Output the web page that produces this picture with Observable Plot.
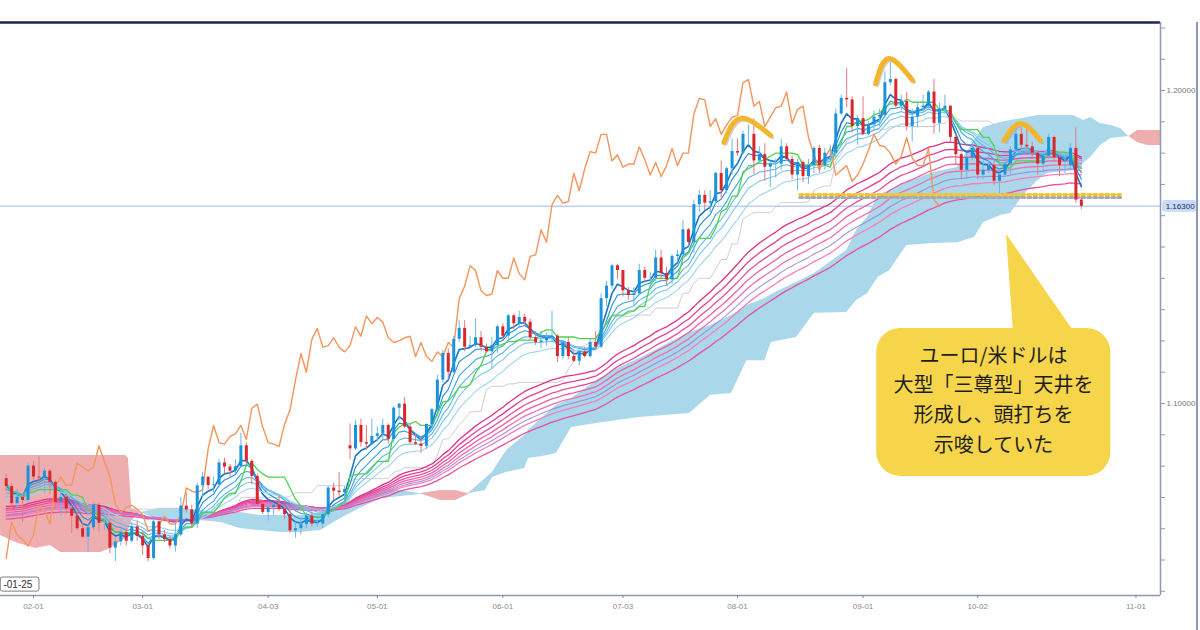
<!DOCTYPE html>
<html>
<head>
<meta charset="utf-8">
<script src="https://cdn.jsdelivr.net/npm/d3@7"></script>
<script src="https://cdn.jsdelivr.net/npm/@observablehq/plot@0.6"></script>
<style>
  html, body { margin: 0; padding: 0; background: #fff; }
  #wrap { position: relative; width: 1200px; height: 630px; overflow: hidden; }
  #edge { position: absolute; left: 1196px; top: 22px; width: 2px; height: 608px; background: #8e97b3; }
</style>
</head>
<body>
<div id="wrap"><div id="chart"></div><div id="edge"></div></div>
<script>
// ---- daily candles (trading-day index 0 = 01-25) ----
const open = [
1.0760,1.0735,1.0680,1.0700,1.0690, 1.0800,1.0765,1.0762,1.0784,1.0748,
1.0684,1.0700,1.0663,1.0640,1.0600, 1.0573,1.0603,1.0675,1.0617,1.0617,
1.0538,1.0558,1.0588,1.0560,1.0606, 1.0575,1.0545,1.0505,1.0622,1.0580,
1.0565,1.0545,1.0580,1.0672,1.0660, 1.0615,1.0737,1.0765,1.0738,1.0740,
1.0810,1.0797,1.0784,1.0798,1.0865, 1.0815,1.0767,1.0678,1.0652,1.0667,
1.0675,1.0662,1.0645,1.0593,1.0600, 1.0613,1.0640,1.0615,1.0615,1.0645,
1.0730,1.0720,1.0715,1.0865,1.0855, 1.0930,1.0875,1.0870,1.0895,1.0903,
1.0930,1.0885,1.0985,1.0998,1.0925, 1.0875,1.0870,1.0863,1.0933,1.0980,
1.1075,1.1160,1.1100,1.1205,1.1240, 1.1180,1.1185,1.1210,1.1180,1.1165,
1.1185,1.1245,1.1215,1.1280,1.1255, 1.1275,1.1260,1.1210,1.1195,1.1200,
1.1210,1.1215,1.1150,1.1195,1.1150, 1.1135,1.1165,1.1150,1.1195,1.1180,
1.1335,1.1375,1.1440,1.1425,1.1360, 1.1345,1.1350,1.1425,1.1400,1.1400,
1.1465,1.1415,1.1395,1.1470,1.1475, 1.1555,1.1515,1.1635,1.1665,1.1640,
1.1645,1.1735,1.1680,1.1750,1.1805, 1.1800,1.1860,1.1860,1.1775,1.1795,
1.1755,1.1765,1.1765,1.1820,1.1780, 1.1730,1.1770,1.1725,1.1760,1.1815,
1.1760,1.1800,1.1800,1.1925,1.1975, 1.1970,1.1885,1.1910,1.1860,1.1890,
1.1915,1.1920,1.2025,1.2035,1.1950, 1.1965,1.1885,1.1915,1.1945,1.1950,
1.1995,1.1895,1.1940,1.1950,1.1850, 1.1795,1.1745,1.1785,1.1815,1.1730,
1.1745,1.1760,1.1710,1.1730,1.1765, 1.1810,1.1860,1.1825,1.1820,1.1800,
1.1765,1.1790,1.1850,1.1785,1.1760, 1.1760,1.1815,1.1650
];
const high = [
1.0775,1.0745,1.0725,1.0710,1.0810, 1.0815,1.0830,1.0795,1.0790,1.0755,
1.0715,1.0710,1.0675,1.0660,1.0620, 1.0615,1.0680,1.0680,1.0645,1.0630,
1.0570,1.0600,1.0600,1.0620,1.0625, 1.0590,1.0555,1.0630,1.0625,1.0595,
1.0575,1.0615,1.0700,1.0715,1.0675, 1.0745,1.0780,1.0765,1.0765,1.0820,
1.0825,1.0805,1.0820,1.0905,1.0875, 1.0820,1.0775,1.0690,1.0680,1.0680,
1.0705,1.0675,1.0670,1.0620,1.0635, 1.0650,1.0670,1.0630,1.0660,1.0735,
1.0745,1.0780,1.0735,1.0935,1.0945, 1.0950,1.0930,1.0950,1.0925,1.0950,
1.0935,1.0990,1.1000,1.1020,1.0935, 1.0905,1.0890,1.0935,1.0985,1.1090,
1.1170,1.1175,1.1215,1.1265,1.1265, 1.1215,1.1270,1.1230,1.1190,1.1210,
1.1250,1.1255,1.1285,1.1285,1.1295, 1.1285,1.1270,1.1230,1.1230,1.1225,
1.1295,1.1220,1.1200,1.1210,1.1170, 1.1170,1.1180,1.1205,1.1230,1.1350,
1.1390,1.1445,1.1445,1.1425,1.1370, 1.1370,1.1445,1.1435,1.1420,1.1490,
1.1490,1.1435,1.1475,1.1490,1.1585, 1.1560,1.1650,1.1680,1.1680,1.1680,
1.1740,1.1775,1.1755,1.1845,1.1845, 1.1870,1.1890,1.1910,1.1820,1.1830,
1.1770,1.1780,1.1845,1.1830,1.1790, 1.1780,1.1775,1.1780,1.1820,1.1825,
1.1815,1.1825,1.1940,1.1985,1.2070, 1.1980,1.1920,1.1980,1.1900,1.1935,
1.1940,1.2060,1.2090,1.2040,1.1985, 1.1995,1.1940,1.1960,1.1985,1.2000,
1.2035,1.1960,1.1985,1.1950,1.1860, 1.1800,1.1800,1.1835,1.1820,1.1775,
1.1790,1.1775,1.1735,1.1770,1.1820, 1.1880,1.1880,1.1875,1.1835,1.1805,
1.1800,1.1860,1.1855,1.1795,1.1790, 1.1830,1.1880,1.1660
];
const low = [
1.0720,1.0660,1.0660,1.0620,1.0680, 1.0750,1.0750,1.0715,1.0710,1.0665,
1.0640,1.0645,1.0585,1.0595,1.0570, 1.0525,1.0595,1.0590,1.0595,1.0520,
1.0495,1.0545,1.0545,1.0555,1.0560, 1.0515,1.0495,1.0500,1.0565,1.0555,
1.0535,1.0525,1.0575,1.0650,1.0605, 1.0600,1.0700,1.0725,1.0715,1.0730,
1.0775,1.0765,1.0775,1.0795,1.0805, 1.0740,1.0675,1.0645,1.0625,1.0640,
1.0655,1.0630,1.0585,1.0570,1.0580, 1.0600,1.0605,1.0605,1.0600,1.0635,
1.0690,1.0700,1.0680,1.0820,1.0850, 1.0860,1.0850,1.0865,1.0880,1.0885,
1.0870,1.0875,1.0945,1.0920,1.0870, 1.0865,1.0840,1.0855,1.0925,1.0975,
1.1065,1.1075,1.1095,1.1195,1.1165, 1.1180,1.1180,1.1165,1.1160,1.1110,
1.1160,1.1200,1.1205,1.1235,1.1240, 1.1245,1.1200,1.1185,1.1175,1.1185,
1.1195,1.1130,1.1140,1.1140,1.1130, 1.1120,1.1145,1.1145,1.1175,1.1175,
1.1310,1.1365,1.1395,1.1340,1.1330, 1.1310,1.1345,1.1390,1.1380,1.1390,
1.1395,1.1375,1.1380,1.1450,1.1470, 1.1500,1.1480,1.1610,1.1615,1.1610,
1.1635,1.1650,1.1670,1.1730,1.1790, 1.1795,1.1825,1.1730,1.1770,1.1710,
1.1690,1.1720,1.1745,1.1775,1.1715, 1.1680,1.1705,1.1700,1.1735,1.1735,
1.1745,1.1775,1.1785,1.1920,1.1945, 1.1865,1.1825,1.1855,1.1855,1.1875,
1.1885,1.1910,1.2015,1.1945,1.1935, 1.1870,1.1835,1.1880,1.1930,1.1940,
1.1860,1.1865,1.1925,1.1835,1.1760, 1.1715,1.1720,1.1775,1.1715,1.1715,
1.1735,1.1695,1.1670,1.1725,1.1730, 1.1800,1.1810,1.1810,1.1780,1.1730,
1.1740,1.1780,1.1770,1.1725,1.1735, 1.1745,1.1640,1.1620
];
const close = [
1.0735,1.0680,1.0700,1.0690,1.0800, 1.0765,1.0762,1.0784,1.0748,1.0684,
1.0700,1.0663,1.0640,1.0600,1.0573, 1.0603,1.0675,1.0617,1.0617,1.0538,
1.0558,1.0588,1.0560,1.0606,1.0575, 1.0545,1.0505,1.0622,1.0580,1.0565,
1.0545,1.0580,1.0672,1.0660,1.0615, 1.0737,1.0765,1.0738,1.0740,1.0810,
1.0797,1.0784,1.0798,1.0865,1.0815, 1.0767,1.0678,1.0652,1.0667,1.0675,
1.0662,1.0645,1.0593,1.0600,1.0613, 1.0640,1.0615,1.0615,1.0645,1.0730,
1.0720,1.0715,1.0725,1.0855,1.0930, 1.0875,1.0870,1.0895,1.0903,1.0930,
1.0885,1.0985,1.0998,1.0925,1.0875, 1.0870,1.0863,1.0933,1.0980,1.1075,
1.1160,1.1100,1.1205,1.1240,1.1180, 1.1185,1.1210,1.1180,1.1165,1.1185,
1.1245,1.1215,1.1280,1.1255,1.1275, 1.1260,1.1210,1.1195,1.1200,1.1210,
1.1215,1.1150,1.1195,1.1150,1.1135, 1.1165,1.1150,1.1195,1.1180,1.1335,
1.1375,1.1440,1.1425,1.1360,1.1345, 1.1350,1.1425,1.1400,1.1400,1.1465,
1.1415,1.1395,1.1470,1.1475,1.1555, 1.1515,1.1635,1.1665,1.1640,1.1645,
1.1735,1.1680,1.1750,1.1805,1.1800, 1.1860,1.1860,1.1775,1.1795,1.1755,
1.1765,1.1765,1.1820,1.1780,1.1730, 1.1770,1.1725,1.1760,1.1815,1.1760,
1.1800,1.1800,1.1925,1.1975,1.1970, 1.1885,1.1910,1.1860,1.1890,1.1915,
1.1920,1.2025,1.2035,1.1950,1.1965, 1.1885,1.1915,1.1945,1.1950,1.1995,
1.1895,1.1940,1.1950,1.1850,1.1795, 1.1745,1.1785,1.1815,1.1730,1.1745,
1.1760,1.1710,1.1730,1.1765,1.1810, 1.1860,1.1825,1.1820,1.1800,1.1765,
1.1790,1.1850,1.1785,1.1760,1.1760, 1.1815,1.1650,1.1630
];

// ---- Ichimoku cloud edges ----
const cloudIdx = [-1.04,1.7,5.4,8.1,10,17.3,19.1,21.9,22.4,23.0,24.6,28.3,31.9,35.6,39.3,42.9,46.6,50.3,53.9,57.6,
  61.3,64.9,68.6,72.3,75.9,79.6,82.3,84.7,87.8,89.1,91.7,95.0,95.7,98.3,100.8,103.6,108.2,112.0,116.1,125.2,
  129.1,132.9,135.7,139.0,140.2,144.8,148.1,154.0,155.8,157.8,159.8,161.9,165.0,169.9,174.3,177.4,179.1,182.2,184.0,186.4,
  189.0,190.8,195.6,197.4,198.7,200.5,202.4,204.2,205.7,207.3,209.1,211.5];
const spanA = [1.0578,1.0556,1.0537,1.0546,1.0524,1.0524,1.0537,1.0569,1.0594,1.0626,1.0652,1.0665,1.0665,1.0658,1.0652,1.0652,1.0642,1.0642,1.0642,1.0652,
  1.0674,1.0706,1.0728,1.0722,1.0712,1.0690,1.0690,1.0709,1.0760,1.0780,1.0850,1.0898,1.0914,1.0955,1.0994,1.1016,1.1073,1.1112,1.1144,1.1227,
  1.1249,1.1281,1.1313,1.1335,1.1348,1.1387,1.1415,1.1489,1.1553,1.1594,1.1665,1.1681,1.1706,1.1738,1.1754,1.1840,1.1882,1.1898,1.1904,1.1911,
  1.1920,1.1920,1.1920,1.1904,1.1914,1.1895,1.1888,1.1879,1.1853,1.1834,1.1824,1.1824];
const spanB = [1.0834,1.0834,1.0834,1.0834,1.0834,1.0834,1.0834,1.0834,1.0824,1.0665,1.0652,1.0626,1.0620,1.0626,1.0620,1.0601,1.0594,1.0588,1.0588,1.0594,
  1.0633,1.0665,1.0696,1.0703,1.0709,1.0722,1.0722,1.0712,1.0722,1.0764,1.0780,1.0792,1.0824,1.0831,1.0840,1.0923,1.0936,1.0946,1.0955,1.0968,
  1.1026,1.1032,1.1137,1.1137,1.1195,1.1211,1.1288,1.1291,1.1329,1.1351,1.1403,1.1425,1.1505,1.1511,1.1514,1.1530,1.1578,1.1601,1.1607,1.1665,
  1.1712,1.1735,1.1744,1.1767,1.1786,1.1824,1.1847,1.1850,1.1853,1.1872,1.1872,1.1872];

// ---- moving-average ribbons (periods; starting levels read at the left edge) ----
const shortPeriods = [4,6,9,12,15,20];
const shortSeeds   = [1.0745,1.0738,1.0725,1.0712,1.0700,1.0688];
const longPeriods  = [40,45,50,55,60,70,80];
const longSeeds    = [1.0668,1.0662,1.0656,1.0649,1.0642,1.0636,1.0628];
const slowPeriod = 65, slowSeed = 1.0640;

// ---- axis ticks ----
const tickIdx    = [5,25,48,68,91,113,134,157,178,207];
const tickLabels = ["02-01","03-01","04-03","05-01","06-01","07-03","08-01","09-01","10-02","11-01"];
const priceLabels = [1.10, 1.20];
const currentPrice = 1.1630;

// ---- annotations ----
const arcId    = [1,1,1, 2,2,2, 3,3,3];
const arcIdx   = [131.5,134.6,140.1, 159.3,161.7,166.1, 182.8,185.9,189.5];
const arcPrice = [1.1834,1.1911,1.1856, 1.2022,1.2102,1.2032, 1.1840,1.1895,1.1840];
const neckIdx = [145.4, 204.2];
const neckPrice = 1.1668;
const calloutLines = ["ユーロ/米ドルは","大型「三尊型」天井を","形成し、頭打ちを","示唆していた"];
const calloutLineY = [1.1150,1.1058,1.0962,1.0866];
const calloutX = 180.9;
const calloutBox = {x1:159.5, x2:202.4, y1:1.0767, y2:1.1240};
const pointer = [{x:183.3,y:1.1537},{x:184.6,y:1.1220},{x:195.9,y:1.1220},{x:183.3,y:1.1537}];

// ---- derived tables ----
const xMin = -1.045, xMax = 211.5;
const yMin = 1.03866, yMax = 1.22173;
const candles = close.map((c,i)=>({i, o:open[i], h:high[i], l:low[i], c}));
const up = candles.filter(d=>d.c >= d.o), down = candles.filter(d=>d.c < d.o);
function ema(p, seed){ const k = 2/(p+1); let e = seed; return close.map(c => (e = e + k*(c-e))); }
function mid(n){ return close.map((_,i)=>{ const s=Math.max(0,i-n+1); return (d3.max(high.slice(s,i+1))+d3.min(low.slice(s,i+1)))/2; }); }
const tenkan = mid(9), kijun = mid(26);
const chikou = close.slice(26).map((v,j)=>({x:j, v}));
const cloud = cloudIdx.map((x,k)=>({x, a:spanA[k], b:spanB[k]}));
const arcs = arcId.map((id,k)=>({id, x:arcIdx[k], y:arcPrice[k]}));
const labelMap = new Map(tickIdx.map((t,k)=>[t, tickLabels[k]]));

const shortColors = ["#1576c8","#2190dc","#3aa6e6","#5bb8ec","#7cc7ef","#9ad4f2"];
const longColors  = ["#e0308a","#e43f94","#e8509e","#ec60a8","#ef70b2","#f180bb","#ea4f9f"];

const lineOf = (arr, opts) => Plot.line(arr, {x:(d,i)=>i, y:d=>d, ...opts});

const marks = [
  Plot.areaY(cloud, {x:"x", y1:"b", y2:d=>Math.max(d.a,d.b), fill:"#aad7ea"}),
  Plot.areaY(cloud, {x:"x", y1:"a", y2:d=>Math.max(d.a,d.b), fill:"#eeaeb0"}),
  Plot.ruleY([currentPrice], {stroke:"#bcd0f2", strokeWidth:1.5}),
  lineOf(kijun, {stroke:"#cfcfcf", strokeWidth:1}),
  ...longPeriods.map((p,k)=>lineOf(ema(p,longSeeds[k]), {stroke:longColors[k], strokeWidth:1.3})),
  lineOf(ema(slowPeriod, slowSeed), {stroke:"#9c7fd8", strokeWidth:1.1, strokeOpacity:0.85}),
  ...shortPeriods.map((p,k)=>lineOf(ema(p,shortSeeds[k]), {stroke:shortColors[k], strokeWidth:k===0?1.6:1.1})),
  lineOf(tenkan, {stroke:"#4fd24f", strokeWidth:1.3}),
  Plot.line(chikou, {x:"x", y:"v", stroke:"#f4955a", strokeWidth:1.4}),
  Plot.line(neckIdx, {x:d=>d, y:()=>neckPrice-0.0010, stroke:"#a9a9a9", strokeWidth:3, strokeDasharray:"3,3"}),
  Plot.line(neckIdx, {x:d=>d, y:()=>neckPrice, stroke:"#f4c531", strokeWidth:3, strokeDasharray:"3,3"}),
  Plot.ruleX(up,   {x:"i", y1:"l", y2:"h", stroke:"#6cb7e4", strokeWidth:1}),
  Plot.ruleX(down, {x:"i", y1:"l", y2:"h", stroke:"#e07c80", strokeWidth:1}),
  Plot.ruleX(up,   {x:"i", y1:"o", y2:"c", stroke:"#1a93da", strokeWidth:3}),
  Plot.ruleX(down, {x:"i", y1:"o", y2:"c", stroke:"#d8262c", strokeWidth:3}),
  Plot.line(arcs, {x:"x", y:"y", z:"id", curve:"natural", stroke:"#9a9a9a", strokeOpacity:0.45, strokeWidth:3, dx:2, dy:2}),
  Plot.line(arcs, {x:"x", y:"y", z:"id", curve:"natural", stroke:"#f3b62a", strokeWidth:5, strokeLinecap:"round"}),
  Plot.line(pointer, {x:"x", y:"y", fill:"#f6d54a", stroke:"#f6d54a", strokeWidth:1}),
  Plot.rect([calloutBox], {x1:"x1", x2:"x2", y1:"y1", y2:"y2", fill:"#f6d54a", rx:24}),
  Plot.text(calloutLines, {x:()=>calloutX, y:(d,i)=>calloutLineY[i], text:d=>d, fontSize:20,
    fontFamily:"'Noto Sans CJK JP', sans-serif", fill:"#1e1e1e"}),
  Plot.ruleY([yMax], {stroke:"#1b2552", strokeWidth:2.5}),
  Plot.ruleY([yMin], {stroke:"#8e97b3", strokeWidth:1.5}),
  Plot.ruleX([xMax], {stroke:"#8e97b3", strokeWidth:1.5}),
  Plot.axisY({anchor:"right", ticks:d3.range(104,123).map(d=>d/100), tickSize:4, tickFormat:()=>"", color:"#8e97b3", label:null}),
  Plot.axisY({anchor:"right", ticks:priceLabels, tickSize:0, tickPadding:6, tickFormat:d3.format(".5f"), fontSize:8, color:"#777", label:null}),
  Plot.axisX({anchor:"bottom", ticks:tickIdx, tickFormat:d=>labelMap.get(d), tickSize:3, tickPadding:5, fontSize:8, color:"#8a8a8a", label:null}),
  Plot.rect([currentPrice], {x1:()=>xMax+0.4, x2:()=>xMax+6.7, y1:d=>d-0.0019, y2:d=>d+0.0019, fill:"#c8dbf6", rx:3}),
  Plot.text([currentPrice], {x:()=>xMax+3.6, y:d=>d, text:d=>d3.format(".5f")(d), fontSize:8, fill:"#1d2a55"}),
  Plot.rect([0], {x1:()=>xMin+0.05, x2:()=>6.1, y1:()=>1.0399, y2:()=>1.0444, fill:"#fff", stroke:"#7d7d7d", rx:2}),
  Plot.text(["-01-25"], {x:()=>-0.5, y:()=>1.04215, text:d=>d, textAnchor:"start", fontSize:10, fill:"#333"})
];

const chart = Plot.plot({
  width:1200, height:630,
  marginTop:22, marginRight:40, marginBottom:35, marginLeft:0,
  x:{domain:[xMin,xMax], axis:null},
  y:{domain:[yMin,yMax], axis:null},
  style:{background:"transparent", fontFamily:"'Liberation Sans', Arial, sans-serif", overflow:"visible"},
  marks
});
document.getElementById("chart").appendChild(chart);
</script>
</body>
</html>
